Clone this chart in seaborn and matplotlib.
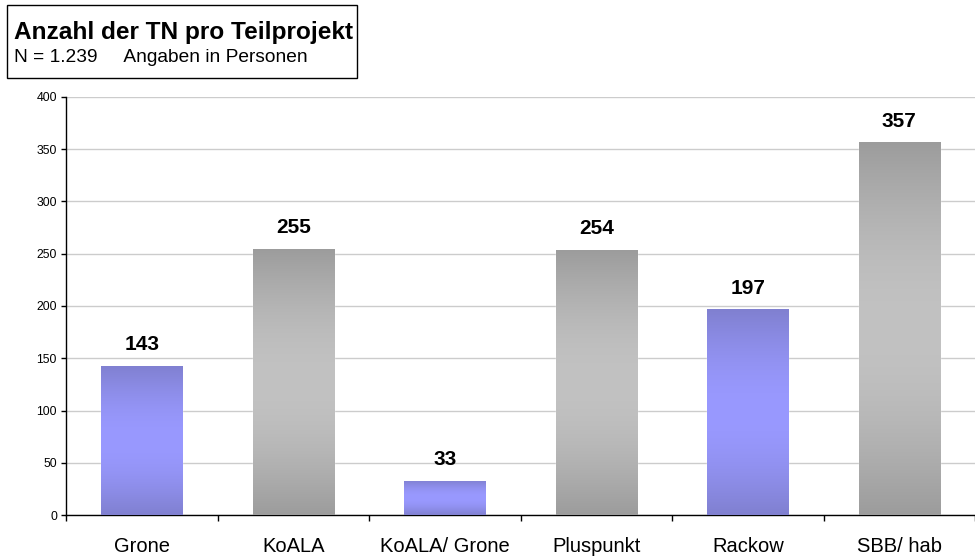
import numpy as np
import pandas as pd
import matplotlib
matplotlib.use("Agg")
import matplotlib.pyplot as plt
import seaborn as sns
from matplotlib.colors import to_rgb
from matplotlib.patches import Rectangle

# Data
projekte = ["Grone", "KoALA", "KoALA/ Grone", "Pluspunkt", "Rackow", "SBB/ hab"]
teilnehmer = [143, 255, 33, 254, 197, 357]
farbgruppe = ["blau", "grau", "blau", "grau", "blau", "grau"]
y_ticks = [0, 50, 100, 150, 200, 250, 300, 350, 400]

titel = "Anzahl der TN pro Teilprojekt"
untertitel = "N = 1.239     Angaben in Personen"

# Gradient ends per colour group: (dark edge, light centre)
verlauf = {"blau": ("#8080d0", "#9999ff"), "grau": ("#9c9c9c", "#c2c2c2")}

sns.set_theme(style="white")
plt.rcParams["font.family"] = ["Liberation Sans", "DejaVu Sans"]
plt.rcParams["text.color"] = "black"
plt.rcParams["xtick.color"] = "black"
plt.rcParams["ytick.color"] = "black"

W, H = 975, 557
fig = plt.figure(figsize=(W / 100, H / 100), dpi=100)
ax = fig.add_axes([66 / W, 42 / H, 909 / W, 418 / H])

df = pd.DataFrame({"Projekt": projekte, "TN": teilnehmer})
palette = {p: verlauf[g][0] for p, g in zip(projekte, farbgruppe)}
sns.barplot(data=df, x="Projekt", y="TN", hue="Projekt", palette=palette,
            width=0.535, saturation=1, legend=False, ax=ax, zorder=2)

# vertical gradient: dark at top and bottom, light in the middle
t = np.linspace(0, 1, 256)
weight = np.sin(np.pi * t)
bars = sorted(ax.patches, key=lambda p: p.get_x())
for bar, g in zip(bars, farbgruppe):
    dark = np.array(to_rgb(verlauf[g][0]))
    light = np.array(to_rgb(verlauf[g][1]))
    img = dark[None, :] + (light - dark)[None, :] * weight[:, None]
    img = img[:, None, :]
    x0, w, h = bar.get_x(), bar.get_width(), bar.get_height()
    im = ax.imshow(img, extent=[x0, x0 + w, 0, h], origin="lower",
                   aspect="auto", zorder=3, interpolation="bilinear")
    im.set_clip_path(bar)

for cont in ax.containers:
    ax.bar_label(cont, padding=8, fontsize=15, fontweight="bold",
                 color="black", zorder=4)

ax.set_xlim(-0.5, len(projekte) - 0.5)
ax.set_ylim(0, 400)
ax.set_yticks(y_ticks)
ax.yaxis.grid(True, color="#cccccc", linewidth=1)
ax.set_axisbelow(True)
ax.set_xlabel("")
ax.set_ylabel("")

for s in ["top", "right"]:
    ax.spines[s].set_visible(False)
for s in ["left", "bottom"]:
    ax.spines[s].set_color("black")
    ax.spines[s].set_linewidth(1)

ax.set_xticks(np.arange(-0.5, len(projekte), 1.0), minor=True)
ax.tick_params(axis="x", which="major", length=0, labelsize=14.5, pad=16)
ax.tick_params(axis="x", which="minor", length=4.5, width=1, color="black",
               direction="out", bottom=True)
ax.tick_params(axis="y", length=3.5, width=1, color="black", direction="out",
               labelsize=8.8, pad=3, left=True)

# title box in the upper left corner
fig.patches.append(Rectangle((7 / W, 1 - 78 / H), 350 / W, 73 / H,
                             transform=fig.transFigure, fill=False,
                             edgecolor="black", linewidth=1))
fig.text(14 / W, 1 - 32 / H, titel, fontsize=17.6, fontweight="bold",
         va="center", ha="left")
fig.text(14 / W, 1 - 57 / H, untertitel, fontsize=13.8, va="center", ha="left")

fig.savefig("out.png", dpi=100)
